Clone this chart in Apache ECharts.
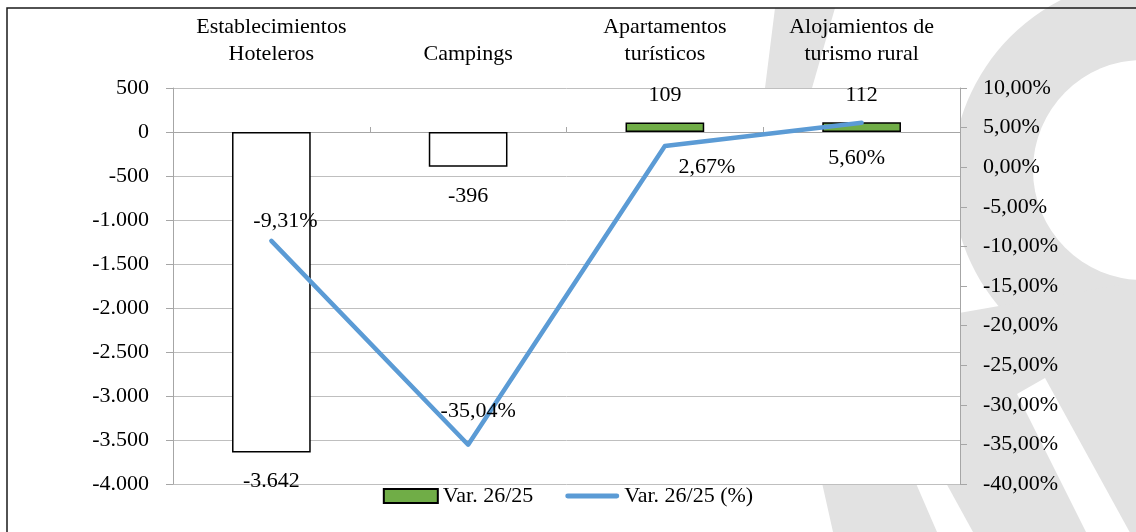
<!DOCTYPE html>
<html>
<head>
<meta charset="utf-8">
<script src="https://cdn.jsdelivr.net/npm/echarts@6/dist/echarts.min.js"></script>
<style>
html,body{margin:0;padding:0;background:#fff;}
#chart{width:1136px;height:532px;}
</style>
</head>
<body>
<div id="chart"></div>
<script>
// ---- data ----
const categories = ['Establecimientos\nHoteleros', 'Campings', 'Apartamentos\nturísticos', 'Alojamientos de\nturismo rural'];
const varAbs = [-3642, -396, 109, 112];        // Var. 26/25
const varPct = [-9.31, -35.04, 2.67, 5.60];    // Var. 26/25 (%)
const seriesNames = ['Var. 26/25', 'Var. 26/25 (%)'];

// ---- styling ----
const FONT = 'Liberation Serif';
const FS = 22;
const GRID_C = '#bfbfbf';
const AXIS_C = '#a6a6a6';
const GREEN = '#70ad47';
const BLUE = '#5b9bd5';
const WM = '#e2e2e2';
const pctLabelOffsets = [[14, -20], [10, -33], [42, 21], [-5, 35]];

function fmtThousands(n) {
  const s = Math.abs(Math.round(n)).toString().replace(/\B(?=(\d{3})+(?!\d))/g, '.');
  return (n < 0 ? '-' : '') + s;
}
function fmtPct(v) {
  let s = Math.abs(v).toFixed(2).replace('.', ',');
  return (v < -1e-9 ? '-' : '') + s + '%';
}

const chart = echarts.init(document.getElementById('chart'), null, {renderer: 'canvas'});

const barData = varAbs.map(v => ({
  value: v,
  itemStyle: {color: v < 0 ? '#ffffff' : GREEN},
  label: {position: v < 0 ? 'bottom' : 'top', distance: v < 0 ? 18 : 16}
}));
const lineData = varPct.map((v, i) => ({
  value: v,
  label: {offset: pctLabelOffsets[i]}
}));

const option = {
  animation: false,
  backgroundColor: '#ffffff',
  textStyle: {fontFamily: FONT},
  graphic: [
    // watermark
    {type: 'polygon', z: -10, silent: true,
      shape: {points: [[775, 8], [835, 8], [812, 88], [815, 250], [937, 532], [833, 532], [770, 250], [765, 88]]},
      style: {fill: WM}},
    {type: 'circle', z: -10, silent: true, shape: {cx: 1152, cy: 178, r: 200}, style: {fill: WM}},
    {type: 'polygon', z: -10, silent: true,
      shape: {points: [[862, 330], [1136, 282], [1136, 532], [973, 532]]},
      style: {fill: WM}},
    {type: 'circle', z: -9, silent: true, shape: {cx: 1143, cy: 170, r: 110}, style: {fill: '#ffffff'}},
    {type: 'polygon', z: -9, silent: true,
      shape: {points: [[1017, 394], [1045, 378], [1145, 560], [1100, 560]]},
      style: {fill: '#ffffff'}},
    // frame
    {type: 'rect', z: 100, silent: true,
      shape: {x: 7, y: 8, width: 1140, height: 540},
      style: {fill: 'none', stroke: '#1a1a1a', lineWidth: 1.5}}
  ],
  grid: {left: 173, right: 176, top: 88, bottom: 48, show: true, backgroundColor: '#ffffff', borderWidth: 0},
  legend: {
    bottom: 20,
    left: 'center',
    itemWidth: 54,
    itemHeight: 14,
    itemGap: 32,
    textStyle: {fontFamily: FONT, fontSize: FS, color: '#000'},
    data: [
      {name: seriesNames[0], icon: 'rect'},
      {name: seriesNames[1], icon: 'path://M2.5,0 L52.5,0 A2.5,2.5 0 0 1 52.5,5 L2.5,5 A2.5,2.5 0 0 1 2.5,0 Z', itemStyle: {color: BLUE, borderWidth: 0}}
    ]
  },
  xAxis: [
    {
      type: 'category', data: categories, position: 'bottom',
      axisLine: {show: true, onZero: true, onZeroAxisIndex: 0, lineStyle: {color: AXIS_C, width: 1}},
      axisTick: {show: true, inside: true, length: 5, lineStyle: {color: AXIS_C}},
      axisLabel: {show: false},
      splitLine: {show: false}
    },
    {
      type: 'category', data: categories, position: 'top',
      axisLine: {show: false}, axisTick: {show: false},
      axisLabel: {show: true, margin: 20, fontFamily: FONT, fontSize: FS, lineHeight: 27, color: '#000', interval: 0}
    }
  ],
  yAxis: [
    {
      type: 'value', min: -4000, max: 500, interval: 500, position: 'left',
      axisLine: {show: true, lineStyle: {color: AXIS_C}},
      axisTick: {show: true, length: 7, lineStyle: {color: AXIS_C}},
      axisLabel: {margin: 24, fontFamily: FONT, fontSize: FS, color: '#000', formatter: fmtThousands},
      splitLine: {show: true, lineStyle: {color: GRID_C, width: 1}}
    },
    {
      type: 'value', min: -40, max: 10, interval: 5, position: 'right',
      axisLine: {show: true, lineStyle: {color: AXIS_C}},
      axisTick: {show: true, length: 7, lineStyle: {color: AXIS_C}},
      axisLabel: {margin: 23, fontFamily: FONT, fontSize: FS, color: '#000', formatter: fmtPct},
      splitLine: {show: false}
    }
  ],
  series: [
    {
      name: seriesNames[0], type: 'bar', xAxisIndex: 0, yAxisIndex: 0,
      barWidth: '40%',
      itemStyle: {color: GREEN, borderColor: '#000', borderWidth: 1.5},
      label: {show: true, fontFamily: FONT, fontSize: FS, color: '#000', formatter: p => fmtThousands(p.value)},
      data: barData
    },
    {
      name: seriesNames[1], type: 'line', xAxisIndex: 0, yAxisIndex: 1,
      symbol: 'circle', symbolSize: 1, showSymbol: true,
      itemStyle: {color: BLUE},
      lineStyle: {color: BLUE, width: 4.5, cap: 'round', join: 'round'},
      label: {show: true, position: 'inside', fontFamily: FONT, fontSize: FS, color: '#000', formatter: p => fmtPct(p.value)},
      z: 3,
      data: lineData
    }
  ]
};
chart.setOption(option);
</script>
</body>
</html>
